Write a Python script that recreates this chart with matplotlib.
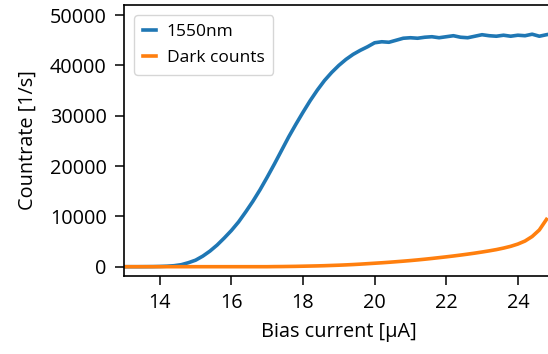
#!/usr/bin/env python3
from matplotlib import pyplot as plt

plt.rcParams['font.family'] = ['Open Sans', 'DejaVu Sans']

# bias current [uA]
bias = [13.0, 13.2, 13.4, 13.6, 13.8, 14.0, 14.2, 14.4, 14.6, 14.8,
        15.0, 15.2, 15.4, 15.6, 15.8, 16.0, 16.2, 16.4, 16.6, 16.8,
        17.0, 17.2, 17.4, 17.6, 17.8, 18.0, 18.2, 18.4, 18.6, 18.8,
        19.0, 19.2, 19.4, 19.6, 19.8, 20.0, 20.2, 20.4, 20.6, 20.8,
        21.0, 21.2, 21.4, 21.6, 21.8, 22.0, 22.2, 22.4, 22.6, 22.8,
        23.0, 23.2, 23.4, 23.6, 23.8, 24.0, 24.2, 24.4, 24.6, 24.8]

# countrate with 1550nm light [1/s]
counts_1550 = [0, 0, 0, 10, 20, 50, 100, 200, 400, 800,
               1300, 2100, 3100, 4300, 5700, 7200, 8900, 10900, 13000, 15300,
               17800, 20400, 23100, 25800, 28300, 30700, 33000, 35100, 37000, 38600,
               40000, 41200, 42200, 43000, 43700, 44500, 44700, 44600, 45000, 45400,
               45500, 45400, 45600, 45700, 45500, 45700, 45900, 45600, 45500, 45800,
               46100, 45900, 45800, 46000, 45800, 46000, 45900, 46200, 45800, 46100]

# dark counts [1/s]
counts_dark = [0, 0, 0, 0, 0, 0, 0, 0, 0, 0,
               0, 0, 0, 0, 0, 0, 0, 0, 0, 0,
               0, 20, 30, 50, 70, 100, 130, 160, 200, 250,
               300, 360, 430, 510, 600, 690, 780, 880, 990, 1100,
               1220, 1350, 1490, 1640, 1800, 1960, 2130, 2310, 2500, 2700,
               2920, 3150, 3400, 3700, 4050, 4500, 5100, 6000, 7300, 9400]

fig = plt.figure(figsize=(5.48, 3.54), dpi=100)
ax = fig.add_axes([0.2263, 0.2203, 0.784, 0.7655])

ax.plot(bias, counts_1550, color='tab:blue', lw=2.6, label='1550nm')
ax.plot(bias, counts_dark, color='tab:orange', lw=2.6, label='Dark counts')

ax.set_xlim(13, 25)
ax.set_ylim(-1850, 52000)
ax.set_xticks([14, 16, 18, 20, 22, 24])
ax.set_yticks([0, 10000, 20000, 30000, 40000, 50000])

ax.set_xlabel('Bias current [µA]', fontsize=14.3, labelpad=6)
ax.set_ylabel('Countrate [1/s]', fontsize=14.3, labelpad=9)
ax.tick_params(labelsize=14.3, length=6.5, width=1.1, pad=6)
for s in ax.spines.values():
    s.set_linewidth(1.2)

ax.legend(loc='upper left', fontsize=12.5, handlelength=0.75, handletextpad=0.6,
          borderpad=0.5, labelspacing=0.55, borderaxespad=0.6)

fig.savefig('out.png', dpi=100)
